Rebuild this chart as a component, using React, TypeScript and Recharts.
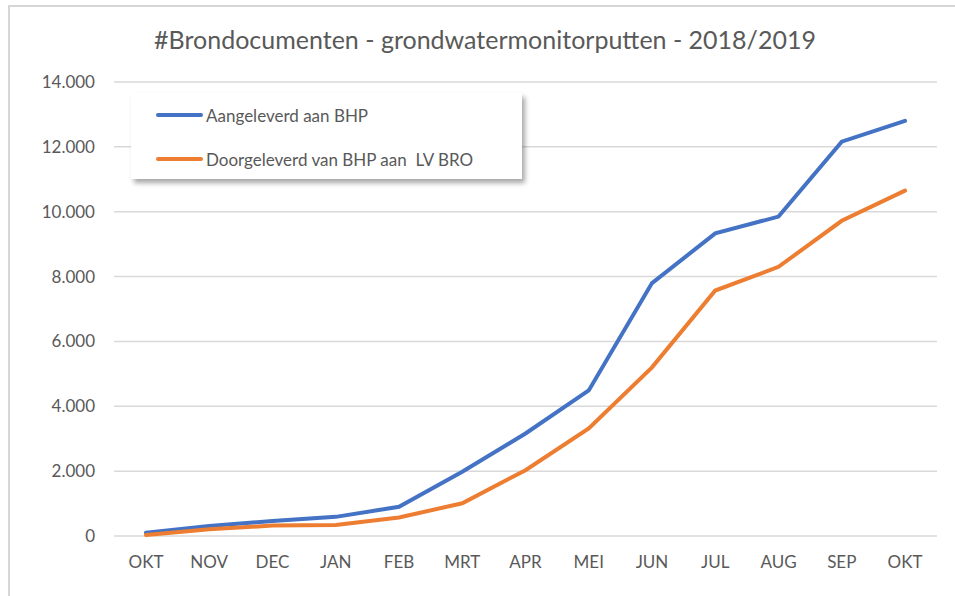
import React from "react";
import { CartesianGrid, Line, LineChart, XAxis, YAxis } from "recharts";

const months = ["OKT", "NOV", "DEC", "JAN", "FEB", "MRT", "APR", "MEI", "JUN", "JUL", "AUG", "SEP", "OKT"];
const aangeleverd = [100, 310, 460, 590, 900, 1980, 3160, 4490, 7800, 9330, 9850, 12160, 12800];
const doorgeleverd = [30, 210, 320, 340, 570, 1010, 2030, 3320, 5200, 7570, 8300, 9720, 10650];
const yTicks = [0, 2000, 4000, 6000, 8000, 10000, 12000, 14000];

const data = months.map((m, i) => ({ month: m, a: aangeleverd[i], d: doorgeleverd[i] }));

const FONT = "Lato, 'Open Sans', sans-serif";
const TEXT = "#595959";

const fmt = (v: number) => (v === 0 ? "0" : String(v).replace(/\B(?=(\d{3})+(?!\d))/g, "."));

const series = [
  { key: "a", name: "Aangeleverd aan BHP", color: "#4472C4" },
  { key: "d", name: "Doorgeleverd van BHP aan  LV BRO", color: "#ED7D31" },
];

function LegendBox() {
  return (
    <div
      style={{
        position: "absolute",
        left: 131,
        top: 93,
        width: 391,
        height: 86,
        background: "#fff",
        boxShadow: "3px 4px 5px rgba(0,0,0,0.35)",
        fontFamily: FONT,
        fontSize: 17,
        color: TEXT,
      }}
    >
      {series.map((s, i) => (
        <div
          key={s.key}
          style={{ position: "absolute", left: 25, top: 10 + i * 44, display: "flex", alignItems: "center", height: 24, whiteSpace: "pre" }}
        >
          <span style={{ display: "inline-block", width: 47, height: 4, borderRadius: 2, background: s.color, marginRight: 3 }} />
          {s.name}
        </div>
      ))}
    </div>
  );
}

export default function App() {
  return (
    <div style={{ position: "absolute", left: 0, top: 0, width: 955, height: 596, background: "#fff", overflow: "hidden" }}>
      <div style={{ position: "absolute", left: 8, top: 5, right: 0, bottom: 0, borderTop: "2px solid #d6d6d6", borderLeft: "2px solid #d6d6d6" }} />
      <div
        style={{
          position: "absolute",
          left: 0,
          width: 970,
          top: 24,
          textAlign: "center",
          fontFamily: FONT,
          fontSize: 25,
          color: TEXT,
        }}
      >
        #Brondocumenten - grondwatermonitorputten - 2018/2019
      </div>
      <div style={{ position: "absolute", left: 0, top: 0 }}>
        <LineChart width={955} height={596} data={data} margin={{ top: 82, right: 18, bottom: 30, left: 0 }}>
          <CartesianGrid horizontal vertical={false} stroke="#d9d9d9" strokeWidth={1.5} />
          <XAxis
            dataKey="month"
            height={30}
            axisLine={false}
            tickLine={false}
            tickSize={0}
            tickMargin={20}
            interval={0}
            padding={{ left: 32, right: 32 }}
            tick={{ fill: TEXT, fontSize: 17, fontFamily: FONT }}
          />
          <YAxis
            width={114}
            domain={[0, 14000]}
            ticks={yTicks}
            axisLine={false}
            tickLine={false}
            tickSize={0}
            tickMargin={19}
            tickFormatter={fmt}
            tick={{ fill: TEXT, fontSize: 17, fontFamily: FONT }}
          />
          {series.map((s) => (
            <Line
              key={s.key}
              type="linear"
              dataKey={s.key}
              name={s.name}
              stroke={s.color}
              strokeWidth={4}
              dot={false}
              activeDot={false}
              strokeLinecap="round"
              isAnimationActive={false}
            />
          ))}
        </LineChart>
      </div>
      <LegendBox />
    </div>
  );
}
